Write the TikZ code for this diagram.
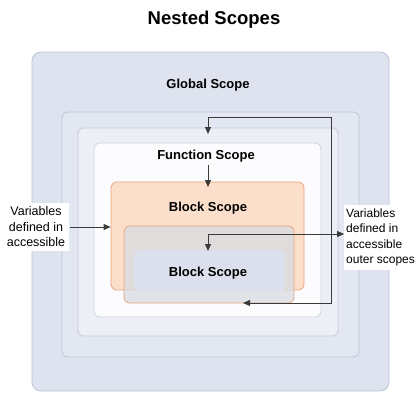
\documentclass[tikz,border=0pt]{standalone}
\usepackage{fontspec}
\setmainfont{Liberation Sans}
\usetikzlibrary{arrows.meta}
\definecolor{gfill}{HTML}{DEE3EF}
\definecolor{gdraw}{HTML}{BCC4D8}
\definecolor{lbfill}{HTML}{E3E7F1}
\definecolor{lcfill}{HTML}{EDEFF6}
\definecolor{lcdraw}{HTML}{C6CCDC}
\definecolor{fnfill}{HTML}{FCFCFE}
\definecolor{fndraw}{HTML}{CFD4E2}
\definecolor{ofill}{HTML}{FCDFCB}
\definecolor{odraw}{HTML}{E6A47C}
\definecolor{ifill}{HTML}{D9DBE2}
\definecolor{bfill}{HTML}{DCE0EC}
\definecolor{conncol}{HTML}{3A3A3A}
\begin{document}
\begin{tikzpicture}[x=1pt,y=-1pt,
  scopebox/.style={rounded corners=6pt, line width=0.8pt, inner sep=0pt},
  lbl/.style={font=\fontsize{13}{15}\selectfont\bfseries, inner sep=0pt},
  note/.style={font=\fontsize{12.5}{15.5}\selectfont, fill=white, inner sep=4pt},
  conn/.style={draw=conncol, line width=0.9pt, -{Triangle[length=7pt,width=6pt]}},
  conntwo/.style={draw=conncol, line width=0.9pt, {Triangle[length=7pt,width=6pt]}-{Triangle[length=7pt,width=6pt]}}]
\useasboundingbox (0,0) rectangle (417,402);
\fill[white] (0,0) rectangle (417,402);

\node[font=\fontsize{18.5}{22}\selectfont\bfseries] (title) at (214,20) {Nested Scopes};

\node[scopebox, rounded corners=9pt, draw=gdraw, fill=gfill, minimum width=357pt, minimum height=339pt] (global) at (210.5,221.5) {};
\node[scopebox, draw=gdraw, fill=lbfill, minimum width=297pt, minimum height=245pt] (lvtwo) at (210.5,234.5) {};
\node[scopebox, draw=lcdraw, fill=lcfill, minimum width=260pt, minimum height=208pt] (lvthree) at (208,232) {};
\node[scopebox, draw=fndraw, fill=fnfill, minimum width=227pt, minimum height=174pt] (func) at (207.5,230) {};
\node[scopebox, draw=odraw, fill=ofill, minimum width=193pt, minimum height=108pt] (blk) at (207.5,236) {};
\node[scopebox, draw=odraw, fill=ifill, fill opacity=0.75, minimum width=170pt, minimum height=77pt] (blkin) at (209,264.5) {};
\node[scopebox, rounded corners=4pt, fill=bfill, minimum width=151pt, minimum height=41pt] (inner) at (209.5,270.5) {};

\node[lbl] (glbl) at (208,85) {Global Scope};
\node[lbl] (flbl) at (206,156) {Function Scope};
\node[lbl] (blbl) at (208,208) {Block Scope};
\node[lbl] (ilbl) at (208,273) {Block Scope};

\node[note, align=center] (ltext) at (36,227) {Variables\\defined in\\accessible};
\node[note, font=\fontsize{12}{15.5}\selectfont, inner xsep=2pt, align=left, anchor=west] (rtext) at (344,237.5) {Variables\\defined in\\accessible\\outer scopes};

\coordinate (tr) at (331,117);
\coordinate (br) at (331,303);
\coordinate (ftop) at (208,134);
\coordinate (btip) at (243,303);
\coordinate (fsrc) at (208,165);
\coordinate (otip) at (208,187);
\coordinate (mid) at (208,234);
\coordinate (itip) at (208,251);

\draw[conntwo] (btip) -- (br) -- (tr) -| (ftop);
\draw[conn] (fsrc) -- (otip);
\draw[conntwo] (itip) -- (mid) -- (mid -| rtext.west);
\draw[conn, shorten <=1pt] (ltext.east) -- (ltext.east -| blk.west);
\end{tikzpicture}
\end{document}
